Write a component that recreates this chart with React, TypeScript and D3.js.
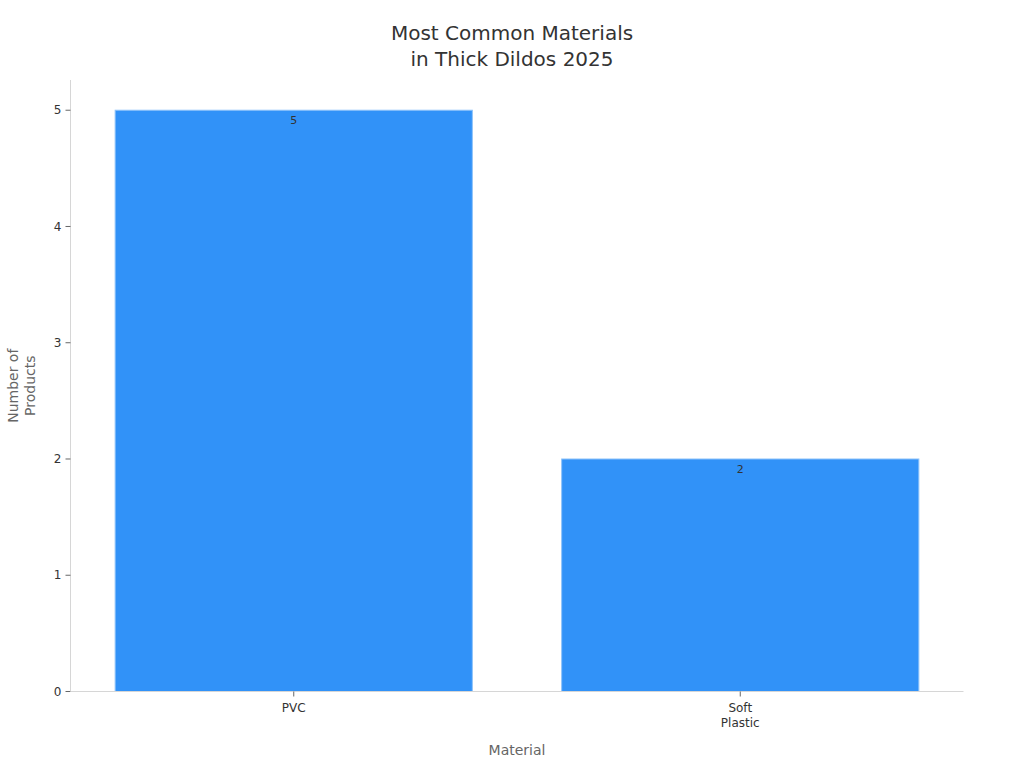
import React from "react";
import * as d3 from "d3";

const categories: string[][] = [["PVC"], ["Soft", "Plastic"]];
const categoryKeys: string[] = ["PVC", "Soft Plastic"];
const values: number[] = [5, 2];
const yTicks: number[] = [0, 1, 2, 3, 4, 5];
const titleLines: string[] = ["Most Common Materials", "in Thick Dildos 2025"];
const yTitleLines: string[] = ["Number of", "Products"];
const xTitle = "Material";

const W = 1024;
const H = 768;
const margin = { left: 70.5, right: 60.5, top: 80, bottom: 76.5 };
const FONT = "'DejaVu Sans', sans-serif";

export default function App() {
  const x = d3
    .scaleBand<string>()
    .domain(categoryKeys)
    .range([margin.left, W - margin.right])
    .paddingInner(0.2)
    .paddingOuter(0.1);
  const y = d3
    .scaleLinear()
    .domain([0, 5.26])
    .range([H - margin.bottom, margin.top]);
  const y0 = y(0);

  return (
    <svg
      width={W}
      height={H}
      style={{ position: "absolute", left: 0, top: 0, background: "#fff" }}
      fontFamily={FONT}
    >
      {titleLines.map((t, i) => (
        <text
          key={t}
          x={W / 2}
          y={40 + i * 26}
          textAnchor="middle"
          fontSize={20}
          fill="#333"
        >
          {t}
        </text>
      ))}

      {/* bars */}
      {categoryKeys.map((c, i) => (
        <g key={c}>
          <rect
            x={x(c)!}
            y={y(values[i])}
            width={x.bandwidth()}
            height={y0 - y(values[i])}
            fill="#3192F8"
            stroke="#8EC3FA"
            strokeWidth={1}
          />
          <text
            x={x(c)! + x.bandwidth() / 2}
            y={y(values[i]) + 14}
            textAnchor="middle"
            fontSize={11}
            fill="#333"
          >
            {values[i]}
          </text>
        </g>
      ))}

      {/* y axis */}
      <line
        x1={margin.left}
        x2={margin.left}
        y1={margin.top}
        y2={y0}
        stroke="#d6d6d6"
      />
      {yTicks.map((t) => (
        <g key={t}>
          <line
            x1={margin.left - 5}
            x2={margin.left}
            y1={y(t)}
            y2={y(t)}
            stroke="#666"
          />
          <text
            x={margin.left - 9}
            y={y(t)}
            dy="0.35em"
            textAnchor="end"
            fontSize={12}
            fill="#333"
          >
            {t}
          </text>
        </g>
      ))}

      {/* x axis */}
      <line
        x1={margin.left}
        x2={W - margin.right}
        y1={y0}
        y2={y0}
        stroke="#d6d6d6"
      />
      {categoryKeys.map((c, i) => {
        const cx = x(c)! + x.bandwidth() / 2;
        return (
          <g key={c}>
            <line x1={cx} x2={cx} y1={y0} y2={y0 + 5} stroke="#666" />
            {categories[i].map((l, j) => (
              <text
                key={l}
                x={cx}
                y={y0 + 20 + j * 15}
                textAnchor="middle"
                fontSize={12}
                fill="#333"
              >
                {l}
              </text>
            ))}
          </g>
        );
      })}

      {/* axis titles */}
      <text
        x={517}
        y={755}
        textAnchor="middle"
        fontSize={14}
        fill="#666"
      >
        {xTitle}
      </text>
      <g transform={`translate(0, ${(margin.top + y0) / 2 + 0})`}>
        {yTitleLines.map((l, j) => (
          <text
            key={l}
            transform={`translate(${18 + j * 17}, 0) rotate(-90)`}
            textAnchor="middle"
            fontSize={14}
            fill="#666"
          >
            {l}
          </text>
        ))}
      </g>
    </svg>
  );
}
